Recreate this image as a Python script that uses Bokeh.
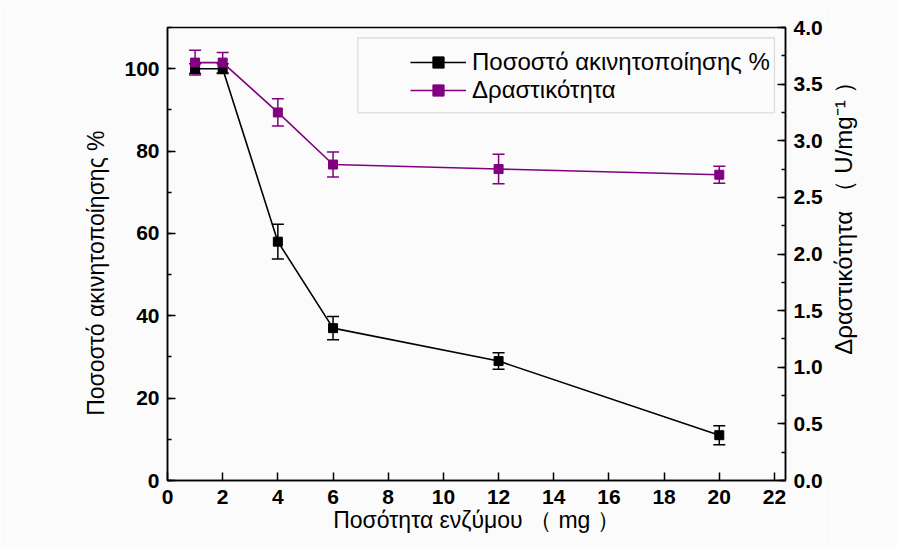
import math
from bokeh.plotting import figure
from bokeh.layouts import row
from bokeh.models import (LinearAxis, Range1d, SingleIntervalTicker, Whisker,
                          ColumnDataSource, TeeHead, Legend, LegendItem,
                          BoxAnnotation, NumeralTickFormatter, Label)
from bokeh.embed import file_html
from bokeh.resources import INLINE

# Enzyme amount (mg)
enzyme_mg = [1, 2, 4, 6, 12, 20]

# Immobilisation percentage (left axis) and its error
immob_pct = [100.0, 100.0, 58.0, 37.0, 29.0, 11.0]
immob_err = [1.2, 1.2, 4.2, 2.8, 2.0, 2.3]

# Activity U/mg^-1 (right axis) and its error
activity = [3.69, 3.69, 3.25, 2.79, 2.75, 2.70]
activity_err = [0.11, 0.09, 0.12, 0.11, 0.13, 0.075]

x_ticks_step = 2
left_ticks_step = 20
right_ticks_step = 0.5

BLACK = "#000000"
PURPLE = "#800080"
BG = "#fbfbfb"
FONT = "Liberation Sans"
NB = "\u00a0"

TOTAL_W, TOTAL_H = 897, 547
SIDE_W = 66  # strip holding the right-hand axis title

p = figure(width=TOTAL_W - SIDE_W, height=TOTAL_H, output_backend="svg",
           toolbar_location=None,
           x_range=Range1d(0, 22.4), y_range=Range1d(0, 110),
           min_border_left=167, min_border_right=46,
           min_border_top=27, min_border_bottom=67)
p.background_fill_color = BG
p.border_fill_color = BG
p.outline_line_color = BLACK
p.outline_line_width = 1.5
p.xgrid.visible = False
p.ygrid.visible = False

p.extra_y_ranges = {"act": Range1d(0, 4.0)}

def style_axis(ax):
    ax.axis_line_color = BLACK
    ax.axis_line_width = 1.5
    ax.major_tick_in = 8
    ax.major_tick_out = 0
    ax.minor_tick_in = 4
    ax.minor_tick_out = 0
    ax.major_tick_line_width = 1.5
    ax.minor_tick_line_width = 1.5
    ax.major_tick_line_color = BLACK
    ax.minor_tick_line_color = BLACK
    ax.major_label_text_font = FONT
    ax.major_label_text_font_style = "bold"
    ax.major_label_text_font_size = "21px"
    ax.major_label_text_color = BLACK
    ax.axis_label_text_font = FONT
    ax.axis_label_text_font_style = "normal"
    ax.axis_label_text_font_size = "23px"
    ax.axis_label_text_color = BLACK

xa = p.xaxis[0]
xa.ticker = SingleIntervalTicker(interval=x_ticks_step, num_minor_ticks=0)
xa.axis_label = "Ποσότητα ενζύμου （" + NB + "mg" + NB + "）"
style_axis(xa)
xa.major_label_standoff = 9
xa.axis_label_standoff = 0

ya = p.yaxis[0]
ya.ticker = SingleIntervalTicker(interval=left_ticks_step, num_minor_ticks=2)
ya.axis_label = "Ποσοστό ακινητοποίησης %" + NB * 6
style_axis(ya)
ya.major_label_standoff = 8
ya.axis_label_standoff = 12

ra = LinearAxis(y_range_name="act",
                ticker=SingleIntervalTicker(interval=right_ticks_step, num_minor_ticks=2),
                formatter=NumeralTickFormatter(format="0.0"))
style_axis(ra)
ra.major_label_standoff = 8
p.add_layout(ra, "right")

src_i = ColumnDataSource(dict(x=enzyme_mg, y=immob_pct,
                              lo=[v - e for v, e in zip(immob_pct, immob_err)],
                              hi=[v + e for v, e in zip(immob_pct, immob_err)]))
src_a = ColumnDataSource(dict(x=enzyme_mg, y=activity,
                              lo=[v - e for v, e in zip(activity, activity_err)],
                              hi=[v + e for v, e in zip(activity, activity_err)]))

# Immobilisation series
l1 = p.line("x", "y", source=src_i, line_color=BLACK, line_width=1.6)
p.add_layout(Whisker(source=src_i, base="x", upper="hi", lower="lo",
                     line_color=BLACK, line_width=1.5,
                     upper_head=TeeHead(size=12, line_color=BLACK, line_width=1.5),
                     lower_head=TeeHead(size=12, line_color=BLACK, line_width=1.5)))
m1 = p.scatter("x", "y", source=src_i, marker="square", size=9,
               fill_color=BLACK, line_color=BLACK)

# Activity series
l2 = p.line("x", "y", source=src_a, y_range_name="act",
            line_color=PURPLE, line_width=1.6)
p.add_layout(Whisker(source=src_a, base="x", upper="hi", lower="lo",
                     y_range_name="act", line_color=PURPLE, line_width=1.5,
                     upper_head=TeeHead(size=12, line_color=PURPLE, line_width=1.5),
                     lower_head=TeeHead(size=12, line_color=PURPLE, line_width=1.5)))
m2 = p.scatter("x", "y", source=src_a, y_range_name="act", marker="square", size=9,
               fill_color=PURPLE, line_color=PURPLE)

# Legend frame
p.add_layout(BoxAnnotation(left=6.9, right=22.0, bottom=89.3, top=107.5,
                           fill_alpha=0, line_color="#8a8a8a", line_width=1.2))

legend = Legend(items=[LegendItem(label="Ποσοστό ακινητοποίησης %", renderers=[l1, m1]),
                       LegendItem(label="Δραστικότητα", renderers=[l2, m2])],
                location=(238, 371), margin=0, padding=5, spacing=0,
                glyph_width=56, glyph_height=28, label_height=28, label_width=300,
                label_standoff=6,
                label_text_font=FONT, label_text_font_size="24px",
                label_text_color=BLACK,
                border_line_alpha=0, background_fill_alpha=0)
p.add_layout(legend)

# Narrow strip to the right carrying the activity axis title, reading upwards
side = figure(width=SIDE_W, height=TOTAL_H, output_backend="svg",
              toolbar_location=None, x_axis_location=None, y_axis_location=None,
              x_range=Range1d(0, SIDE_W), y_range=Range1d(0, TOTAL_H),
              min_border=0)
side.background_fill_color = BG
side.border_fill_color = BG
side.outline_line_color = None
side.xgrid.visible = False
side.ygrid.visible = False
side.add_layout(Label(x=12, y=TOTAL_H - 223,
                      text="Δραστικότητα （" + NB + "U/mg⁻¹" + NB + "）",
                      angle=math.pi / 2, text_align="center", text_baseline="middle",
                      text_font=FONT, text_font_size="24px", text_color=BLACK))

open("out.html", "w").write(file_html(row(p, side), INLINE))
